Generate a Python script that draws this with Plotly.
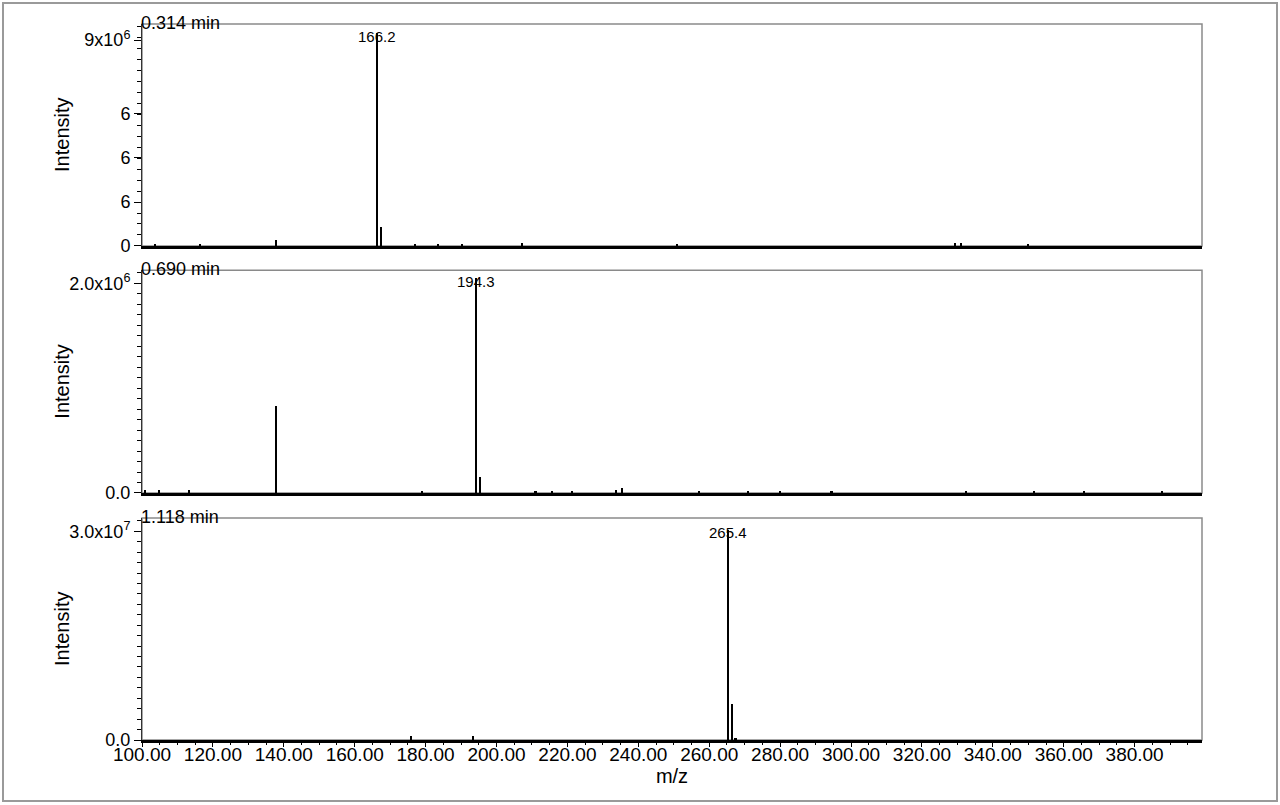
import plotly.graph_objects as go
from plotly.subplots import make_subplots

# spectrum 1 (0.314 min)
mz1 = [103.7, 116.4, 137.8, 166.2, 167.3, 177.0, 183.4, 190.2, 207.3, 251.0, 329.3, 331.0, 350.0]
int1 = [0.05e6, 0.08e6, 0.26e6, 9.3e6, 0.85e6, 0.05e6, 0.05e6, 0.06e6, 0.14e6, 0.05e6, 0.12e6, 0.12e6, 0.06e6]

# spectrum 2 (0.690 min)
mz2 = [100.8, 104.9, 113.3, 137.8, 178.9, 194.3, 195.3, 211.0, 215.7, 221.2, 233.7, 235.3,
       257.1, 271.0, 280.0, 294.5, 332.4, 351.6, 365.7, 387.6]
int2 = [0.03e6, 0.03e6, 0.03e6, 0.83e6, 0.02e6, 2.05e6, 0.15e6, 0.02e6, 0.02e6, 0.02e6, 0.03e6, 0.04e6,
        0.02e6, 0.02e6, 0.02e6, 0.02e6, 0.02e6, 0.02e6, 0.02e6, 0.02e6]

# spectrum 3 (1.118 min)
mz3 = [175.9, 193.4, 265.4, 266.4, 267.4]
int3 = [0.5e6, 0.5e6, 3.02e7, 5.1e6, 0.3e6]

times = ["0.314 min", "0.690 min", "1.118 min"]
peak_labels = ["166.2", "194.3", "265.4"]

y_ranges = [[0, 9.7e6], [0, 2.124e6], [0, 3.19e7]]
y_tickvals = [[0, 1.92e6, 3.86e6, 5.8e6, 9.0e6], [0, 2.0e6], [0, 3.0e7]]
y_ticktext = [["0", "6", "6", "6", "9x10<sup>6</sup>"], ["0.0", "2.0x10<sup>6</sup>"], ["0.0", "3.0x10<sup>7</sup>"]]
y_minor = [0.48e6, 0.1e6, 0.15e7]
domains = [[0.690, 1.0], [0.345, 0.656], [0.0, 0.310]]

font = "Liberation Sans, Arial, sans-serif"

fig = make_subplots(rows=3, cols=1, shared_xaxes=False, vertical_spacing=0.034)

data = [(mz1, int1), (mz2, int2), (mz3, int3)]
for i, (mz, inten) in enumerate(data):
    row = i + 1
    fig.add_trace(go.Bar(x=mz, y=inten, width=0.6, marker_color="black",
                         marker_line_width=0, showlegend=False), row=row, col=1)
    top = max(inten)
    fig.add_annotation(x=mz[inten.index(top)], y=top, text=peak_labels[i], showarrow=False,
                       yanchor="middle", yshift=-3, font=dict(size=15, family=font, color="black"),
                       row=row, col=1)
    xr = "x" if i == 0 else "x%d" % row
    yr = "y" if i == 0 else "y%d" % row
    fig.add_annotation(x=0, y=1, xref=xr + " domain", yref=yr + " domain", text=times[i],
                       showarrow=False, xanchor="left", yanchor="bottom", yshift=-11, xshift=-3,
                       font=dict(size=18, family=font, color="black"))
    # y title as annotation so all three line up
    fig.add_annotation(x=(62 - 142) / 1060, y=sum(domains[i]) / 2, xref="paper", yref="paper",
                       text="Intensity", textangle=-90, showarrow=False, xanchor="center", yanchor="middle",
                       font=dict(size=20, family=font, color="black"))
    # grey frame round each panel
    fig.add_shape(type="rect", x0=0, x1=1, y0=0, y1=1, xref=xr + " domain", yref=yr + " domain",
                  line=dict(color="#8a8a8a", width=1.5), layer="below")
    fig.update_yaxes(range=y_ranges[i], domain=domains[i], tickmode="array", tickvals=y_tickvals[i],
                     ticktext=y_ticktext[i], ticks="outside", ticklen=7, tickcolor="black", showline=True,
                     linecolor="#333333", linewidth=1, showgrid=False, zeroline=False,
                     minor=dict(dtick=y_minor[i], ticks="outside", ticklen=4, tickcolor="black"),
                     tickfont=dict(size=18, family=font, color="black"), row=row, col=1)
    fig.update_xaxes(range=[100, 399], showline=True, linecolor="black", linewidth=2.5,
                     showgrid=False, zeroline=False, row=row, col=1)

fig.update_xaxes(showticklabels=False, ticks="", row=1, col=1)
fig.update_xaxes(showticklabels=False, ticks="", row=2, col=1)
fig.update_xaxes(tickmode="linear", tick0=100, dtick=20, tickformat=".2f", ticks="outside", ticklen=4,
                 tickcolor="black", ticklabelstandoff=-9,
                 minor=dict(dtick=5, ticks="outside", ticklen=2, tickcolor="black"),
                 tickfont=dict(size=19, family=font, color="black"),
                 title=dict(text="m/z", standoff=2, font=dict(size=20, family=font)), row=3, col=1)

# outer border of the picture
fig.add_shape(type="rect", xref="paper", yref="paper",
              x0=(3 - 142) / 1060, x1=(1277 - 142) / 1060,
              y0=(740 - 801) / 716, y1=(740 - 3) / 716,
              line=dict(color="#9a9a9a", width=2))

fig.update_layout(width=1280, height=805, margin=dict(l=142, r=78, t=24, b=65),
                  plot_bgcolor="white", paper_bgcolor="white", bargap=0,
                  font=dict(family=font, color="black"))

fig.write_html("out.html", config={"displayModeBar": False},
               post_script="document.body.style.margin='0';")
